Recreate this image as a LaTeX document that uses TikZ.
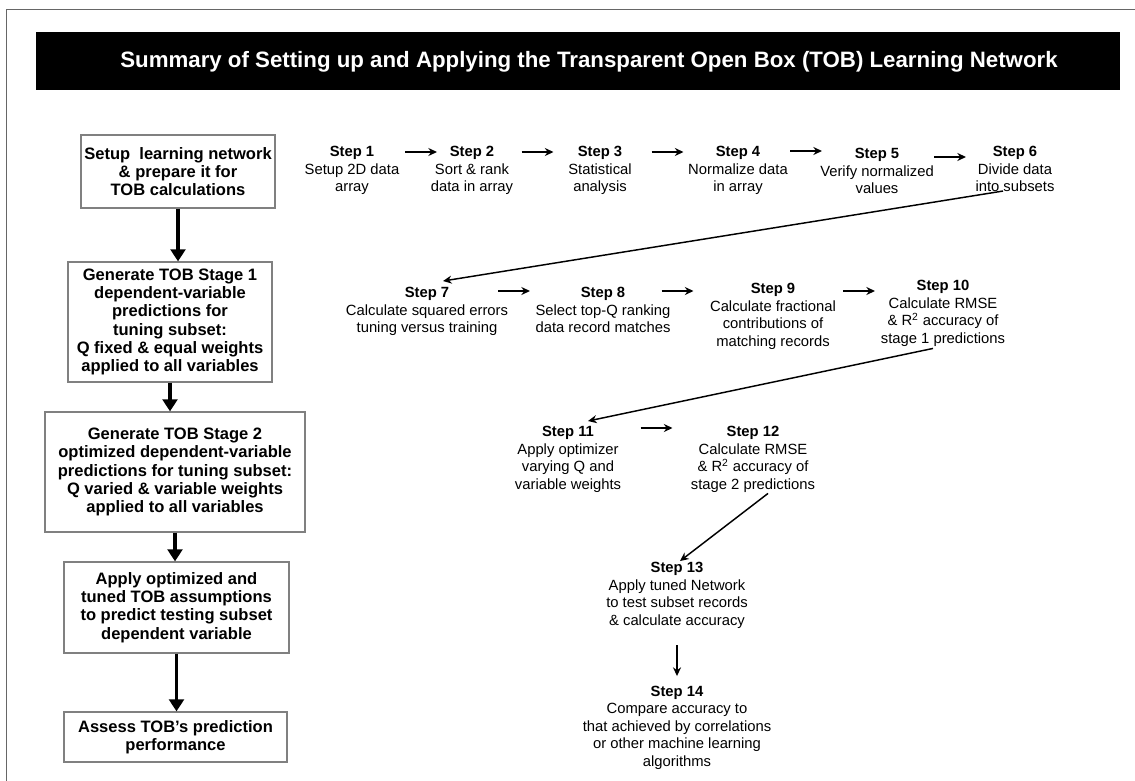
\documentclass[tikz,border=0pt]{standalone}
\usepackage{fontspec}
\setmainfont{Liberation Sans}
\usetikzlibrary{calc,positioning,arrows.meta}

\begin{document}
\begin{tikzpicture}[x=0.75pt, y=-0.75pt,
	stagebox/.style={draw=black!50, line width=0.9pt, align=center, inner sep=0pt,
		font=\fontsize{12.4}{13.7}\selectfont\bfseries},
	steptitle/.style={inner sep=0pt, font=\fontsize{11.1}{13.1}\selectfont\bfseries},
	stepdesc/.style={inner sep=0pt, align=center, below=2.4pt of #1,
		font=\fontsize{11.1}{13.1}\selectfont},
	bigarrow/.style={line width=2.8pt, -{Triangle[length=9pt, width=11pt]}},
	flow/.style={line width=1.1pt, -{Stealth[length=6.5pt, width=6pt]}}]
	\useasboundingbox (0,0) rectangle (1135,781);

	% Marco y barra del titulo
	\draw[black!60, line width=0.6pt] (6,781) -- (6,9) -- (1135,9);
	\fill[black] (36,32) rectangle (1120,90);
	\node[text=white, font=\fontsize{16.7}{20}\selectfont\bfseries] (title) at (589,62)
		{Summary of Setting up and Applying the Transparent Open Box (TOB) Learning Network};

	% Columna izquierda: etapas
	\node[stagebox, minimum width=145.5pt, minimum height=54.75pt] (b1) at (178,171.5)
		{Setup\ \ learning network\\ \& prepare it for\\ TOB calculations};
	\node[stagebox, minimum width=153pt, minimum height=90pt] (b2) at (170,322)
		{Generate TOB Stage 1\\ dependent-variable\\ predictions for\\ tuning subset:\\
		Q fixed \& equal weights\\ applied to all variables};
	\node[stagebox, minimum width=195pt, minimum height=90pt] (b3) at (175,472)
		{Generate TOB Stage 2\\ optimized dependent-variable\\ predictions for tuning subset:\\
		Q varied \& variable weights\\ applied to all variables};
	\node[stagebox, minimum width=168.75pt, minimum height=68.25pt] (b4) at (176.5,607.5)
		{Apply optimized and\\ tuned TOB assumptions\\ to predict testing subset\\ dependent variable};
	\node[stagebox, minimum width=167.25pt, minimum height=37.5pt] (b5) at (175.5,737)
		{Assess TOB’s prediction\\ performance};

	% Flechas gruesas entre etapas
	\draw[bigarrow] (b1.south) -- (b1.south |- b2.north);
	\draw[bigarrow] (b2.south) -- (b2.south |- b3.north);
	\draw[bigarrow] (b3.south) -- (b3.south |- b4.north);
	\draw[bigarrow] (b4.south) -- (b4.south |- b5.north);

	% Pasos 1 a 6
	\node[steptitle] (s1) at (352,153) {Step 1};
	\node[stepdesc=s1] (d1) {Setup 2D data\\ array};
	\node[steptitle] (s2) at (472,153) {Step 2};
	\node[stepdesc=s2] (d2) {Sort \& rank\\ data in array};
	\node[steptitle] (s3) at (600,153) {Step 3};
	\node[stepdesc=s3] (d3) {Statistical\\ analysis};
	\node[steptitle] (s4) at (738,153) {Step 4};
	\node[stepdesc=s4] (d4) {Normalize data\\ in array};
	\node[steptitle] (s5) at (877,155) {Step 5};
	\node[stepdesc=s5] (d5) {Verify normalized\\ values};
	\node[steptitle] (s6) at (1015,153) {Step 6};
	\node[stepdesc=s6] (d6) {Divide data\\ into subsets};

	% Pasos 7 a 10
	\node[steptitle] (s7) at (427,294) {Step 7};
	\node[stepdesc=s7] (d7) {Calculate squared errors\\ tuning versus training};
	\node[steptitle] (s8) at (603,294) {Step 8};
	\node[stepdesc=s8] (d8) {Select top-Q ranking\\ data record matches};
	\node[steptitle] (s9) at (773,290) {Step 9};
	\node[stepdesc=s9] (d9) {Calculate fractional\\ contributions of\\ matching records};
	\node[steptitle] (s10) at (943,287) {Step 10};
	\node[stepdesc=s10] (d10) {Calculate RMSE\\ \& R\textsuperscript{2} accuracy of\\ stage 1 predictions};

	% Pasos 11 a 14
	\node[steptitle] (s11) at (568,433) {Step 11};
	\node[stepdesc=s11] (d11) {Apply optimizer\\ varying Q and\\ variable weights};
	\node[steptitle] (s12) at (753,433) {Step 12};
	\node[stepdesc=s12] (d12) {Calculate RMSE\\ \& R\textsuperscript{2} accuracy of\\ stage 2 predictions};
	\node[steptitle] (s13) at (677,569) {Step 13};
	\node[stepdesc=s13] (d13) {Apply tuned Network\\ to test subset records\\ \& calculate accuracy};
	\node[steptitle] (s14) at (677,693) {Step 14};
	\node[stepdesc=s14] (d14) {Compare accuracy to\\ that achieved by correlations\\
		or other machine learning\\ algorithms};

	% Flechas cortas entre pasos
	\foreach \a/\b/\dx/\dy in {s1/s2/9/-1, s2/s3/1.5/-1, s3/s4/-1.5/-1, s4/s5/-1.5/-3,
		s5/s6/4/3, s7/s8/-1/-3, s8/s9/-10.5/-1, s9/s10/1/2.5, s11/s12/-4/-5}
		\draw[flow] ($(\a)!.5!(\b)+(\dx,\dy)$) +(-16,0) -- +(16,0);

	% Flechas largas de una fila a la siguiente
	\draw[flow] ($(d6.south)+(-12,-1)$) -- ($(s7.north)+(16,-6)$);
	\draw[flow] ($(d10.south)+(-10,2)$) -- ($(s11.north)+(20,-5)$);
	\draw[flow] ($(d12.south)+(15,1)$) -- ($(s13.north)+(3,-1)$);
	\draw[flow] ($(d13.south)+(0,17)$) -- ($(s14.north)+(0,-10)$);
\end{tikzpicture}
\end{document}
